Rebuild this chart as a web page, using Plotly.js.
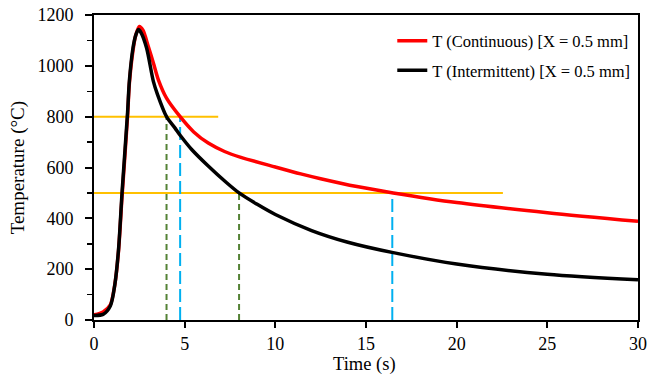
<!DOCTYPE html>
<html>
<head>
<meta charset="utf-8">
<script src="https://cdn.plot.ly/plotly-3.0.1.min.js"></script>
<style>html,body{margin:0;padding:0;background:#fff;}#chart{width:648px;height:374px;}</style>
</head>
<body>
<div id="chart"></div>
<script>
// Continuous series (red)
const timeContinuous = [0, 0.5, 0.9, 1.15, 1.35, 1.55, 1.85, 1.95, 2.15, 2.3, 2.5, 2.7, 3.0, 3.3, 3.55, 4.0, 4.75, 5.5, 6.3, 7.2, 8.1, 10, 11.4, 12.5, 14.5, 16.5, 20, 25, 30];
const tempContinuous = [20, 32, 60, 140, 270, 490, 800, 930, 1060, 1120, 1155, 1140, 1075, 1005, 945, 873, 800, 740, 696, 663, 640, 602, 575, 556, 525, 500, 462, 422, 388];
// Intermittent series (black)
const timeIntermittent = [0, 0.5, 0.9, 1.15, 1.35, 1.55, 1.85, 1.95, 2.15, 2.3, 2.45, 2.6, 2.9, 3.27, 3.5, 4.0, 4.47, 4.75, 5.4, 6.3, 7.3, 8, 9, 10, 12, 14, 16.5, 20, 25, 30];
const tempIntermittent = [18, 22, 55, 140, 275, 505, 815, 940, 1070, 1120, 1143, 1130, 1070, 940, 888, 800, 755, 727, 670, 606, 541, 500, 455, 415, 352, 306, 265, 220, 180, 158];

// Reference levels and crossing times
const levelHigh = 800, levelLow = 500;
const levelHighEnd = 6.85, levelLowEnd = 22.55;
const crossIntermittent = [4.0, 8.0];   // green dashed
const crossContinuous = [4.75, 16.45];  // blue dashed

const nameContinuous = 'T (Continuous) [X = 0.5 mm]';
const nameIntermittent = 'T (Intermittent) [X = 0.5 mm]';
const xTitle = 'Time (s)';
const yTitle = 'Temperature (°C)';

const FONT = 'Liberation Serif';

const traces = [
  {x: [0, levelHighEnd], y: [levelHigh, levelHigh], mode: 'lines', line: {color: '#FFC000', width: 2}, showlegend: false},
  {x: [0, levelLowEnd], y: [levelLow, levelLow], mode: 'lines', line: {color: '#FFC000', width: 2}, showlegend: false},
  {x: [crossIntermittent[0], crossIntermittent[0]], y: [0, levelHigh], mode: 'lines', line: {color: '#548235', width: 2, dash: '6px,4px'}, showlegend: false},
  {x: [crossIntermittent[1], crossIntermittent[1]], y: [0, levelLow], mode: 'lines', line: {color: '#548235', width: 2, dash: '6px,4px'}, showlegend: false},
  {x: [crossContinuous[0], crossContinuous[0]], y: [0, levelHigh], mode: 'lines', line: {color: '#00B0F0', width: 2, dash: '13px,5px'}, showlegend: false},
  {x: [crossContinuous[1], crossContinuous[1]], y: [0, levelLow], mode: 'lines', line: {color: '#00B0F0', width: 2, dash: '13px,5px'}, showlegend: false},
  {x: timeContinuous, y: tempContinuous, name: nameContinuous, legendgroup: 'a', mode: 'lines', line: {color: '#FF0000', width: 3.5, shape: 'spline', smoothing: 0.8}},
  {x: timeIntermittent, y: tempIntermittent, name: nameIntermittent, legendgroup: 'b', mode: 'lines', line: {color: '#000000', width: 3.5, shape: 'spline', smoothing: 0.8}}
];

const layout = {
  width: 648, height: 374,
  margin: {l: 94, r: 10, t: 15, b: 54},
  paper_bgcolor: '#fff', plot_bgcolor: '#fff',
  font: {family: FONT, size: 18, color: '#000'},
  showlegend: true,
  legend: {x: 0.995, y: 0.972, xanchor: 'right', yanchor: 'top', bgcolor: 'rgba(0,0,0,0)',
           font: {family: FONT, size: 16.5, color: '#000'}, traceorder: 'grouped', tracegroupgap: 5},
  xaxis: {
    range: [0, 30], dtick: 5, tick0: 0,
    showline: true, linecolor: '#000', linewidth: 2, mirror: true,
    ticks: 'outside', ticklen: 6, tickwidth: 2, tickcolor: '#000',
    showgrid: false, zeroline: false,
    tickfont: {family: FONT, size: 18, color: '#000'}
  },
  yaxis: {
    range: [0, 1200], dtick: 200, tick0: 0,
    showline: true, linecolor: '#000', linewidth: 2, mirror: true,
    ticks: 'outside', ticklen: 7, tickwidth: 2, tickcolor: '#000',
    ticklabelstandoff: 8,
    minor: {dtick: 100, ticks: 'outside', ticklen: 5, tickwidth: 1.5, tickcolor: '#000', showgrid: false},
    showgrid: false, zeroline: false,
    tickfont: {family: FONT, size: 18, color: '#000'}
  },
  annotations: [
    {text: xTitle, xref: 'paper', yref: 'paper', x: 0.498, y: -0.145, xanchor: 'center', yanchor: 'middle',
     showarrow: false, font: {family: FONT, size: 18.5, color: '#000'}},
    {text: yTitle, xref: 'paper', yref: 'paper', x: -0.14, y: 0.5, xanchor: 'center', yanchor: 'middle',
     textangle: -90, showarrow: false, font: {family: FONT, size: 19, color: '#000'}}
  ]
};

Plotly.newPlot('chart', traces, layout, {staticPlot: true, displayModeBar: false});
</script>
</body>
</html>
